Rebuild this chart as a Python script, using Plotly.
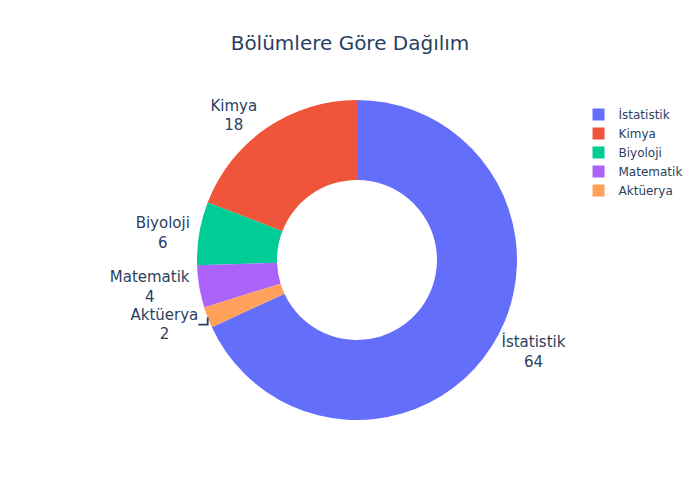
import plotly.graph_objects as go

labels = ["İstatistik", "Kimya", "Biyoloji", "Matematik", "Aktüerya"]
values = [64, 18, 6, 4, 2]

fig = go.Figure(go.Pie(
    labels=labels,
    values=values,
    hole=0.5,
    textinfo="label+value",
    textposition="outside",
    textfont=dict(size=15),
    sort=False,
))
fig.update_layout(
    width=700, height=500,
    font=dict(family="Verdana, DejaVu Sans, sans-serif"),
    title=dict(text="Bölümlere Göre Dağılım", x=0.5, xanchor="center", font=dict(size=20)),
)
fig.write_html("out.html", config={"displayModeBar": False},
               post_script="document.body.style.margin='0';")
